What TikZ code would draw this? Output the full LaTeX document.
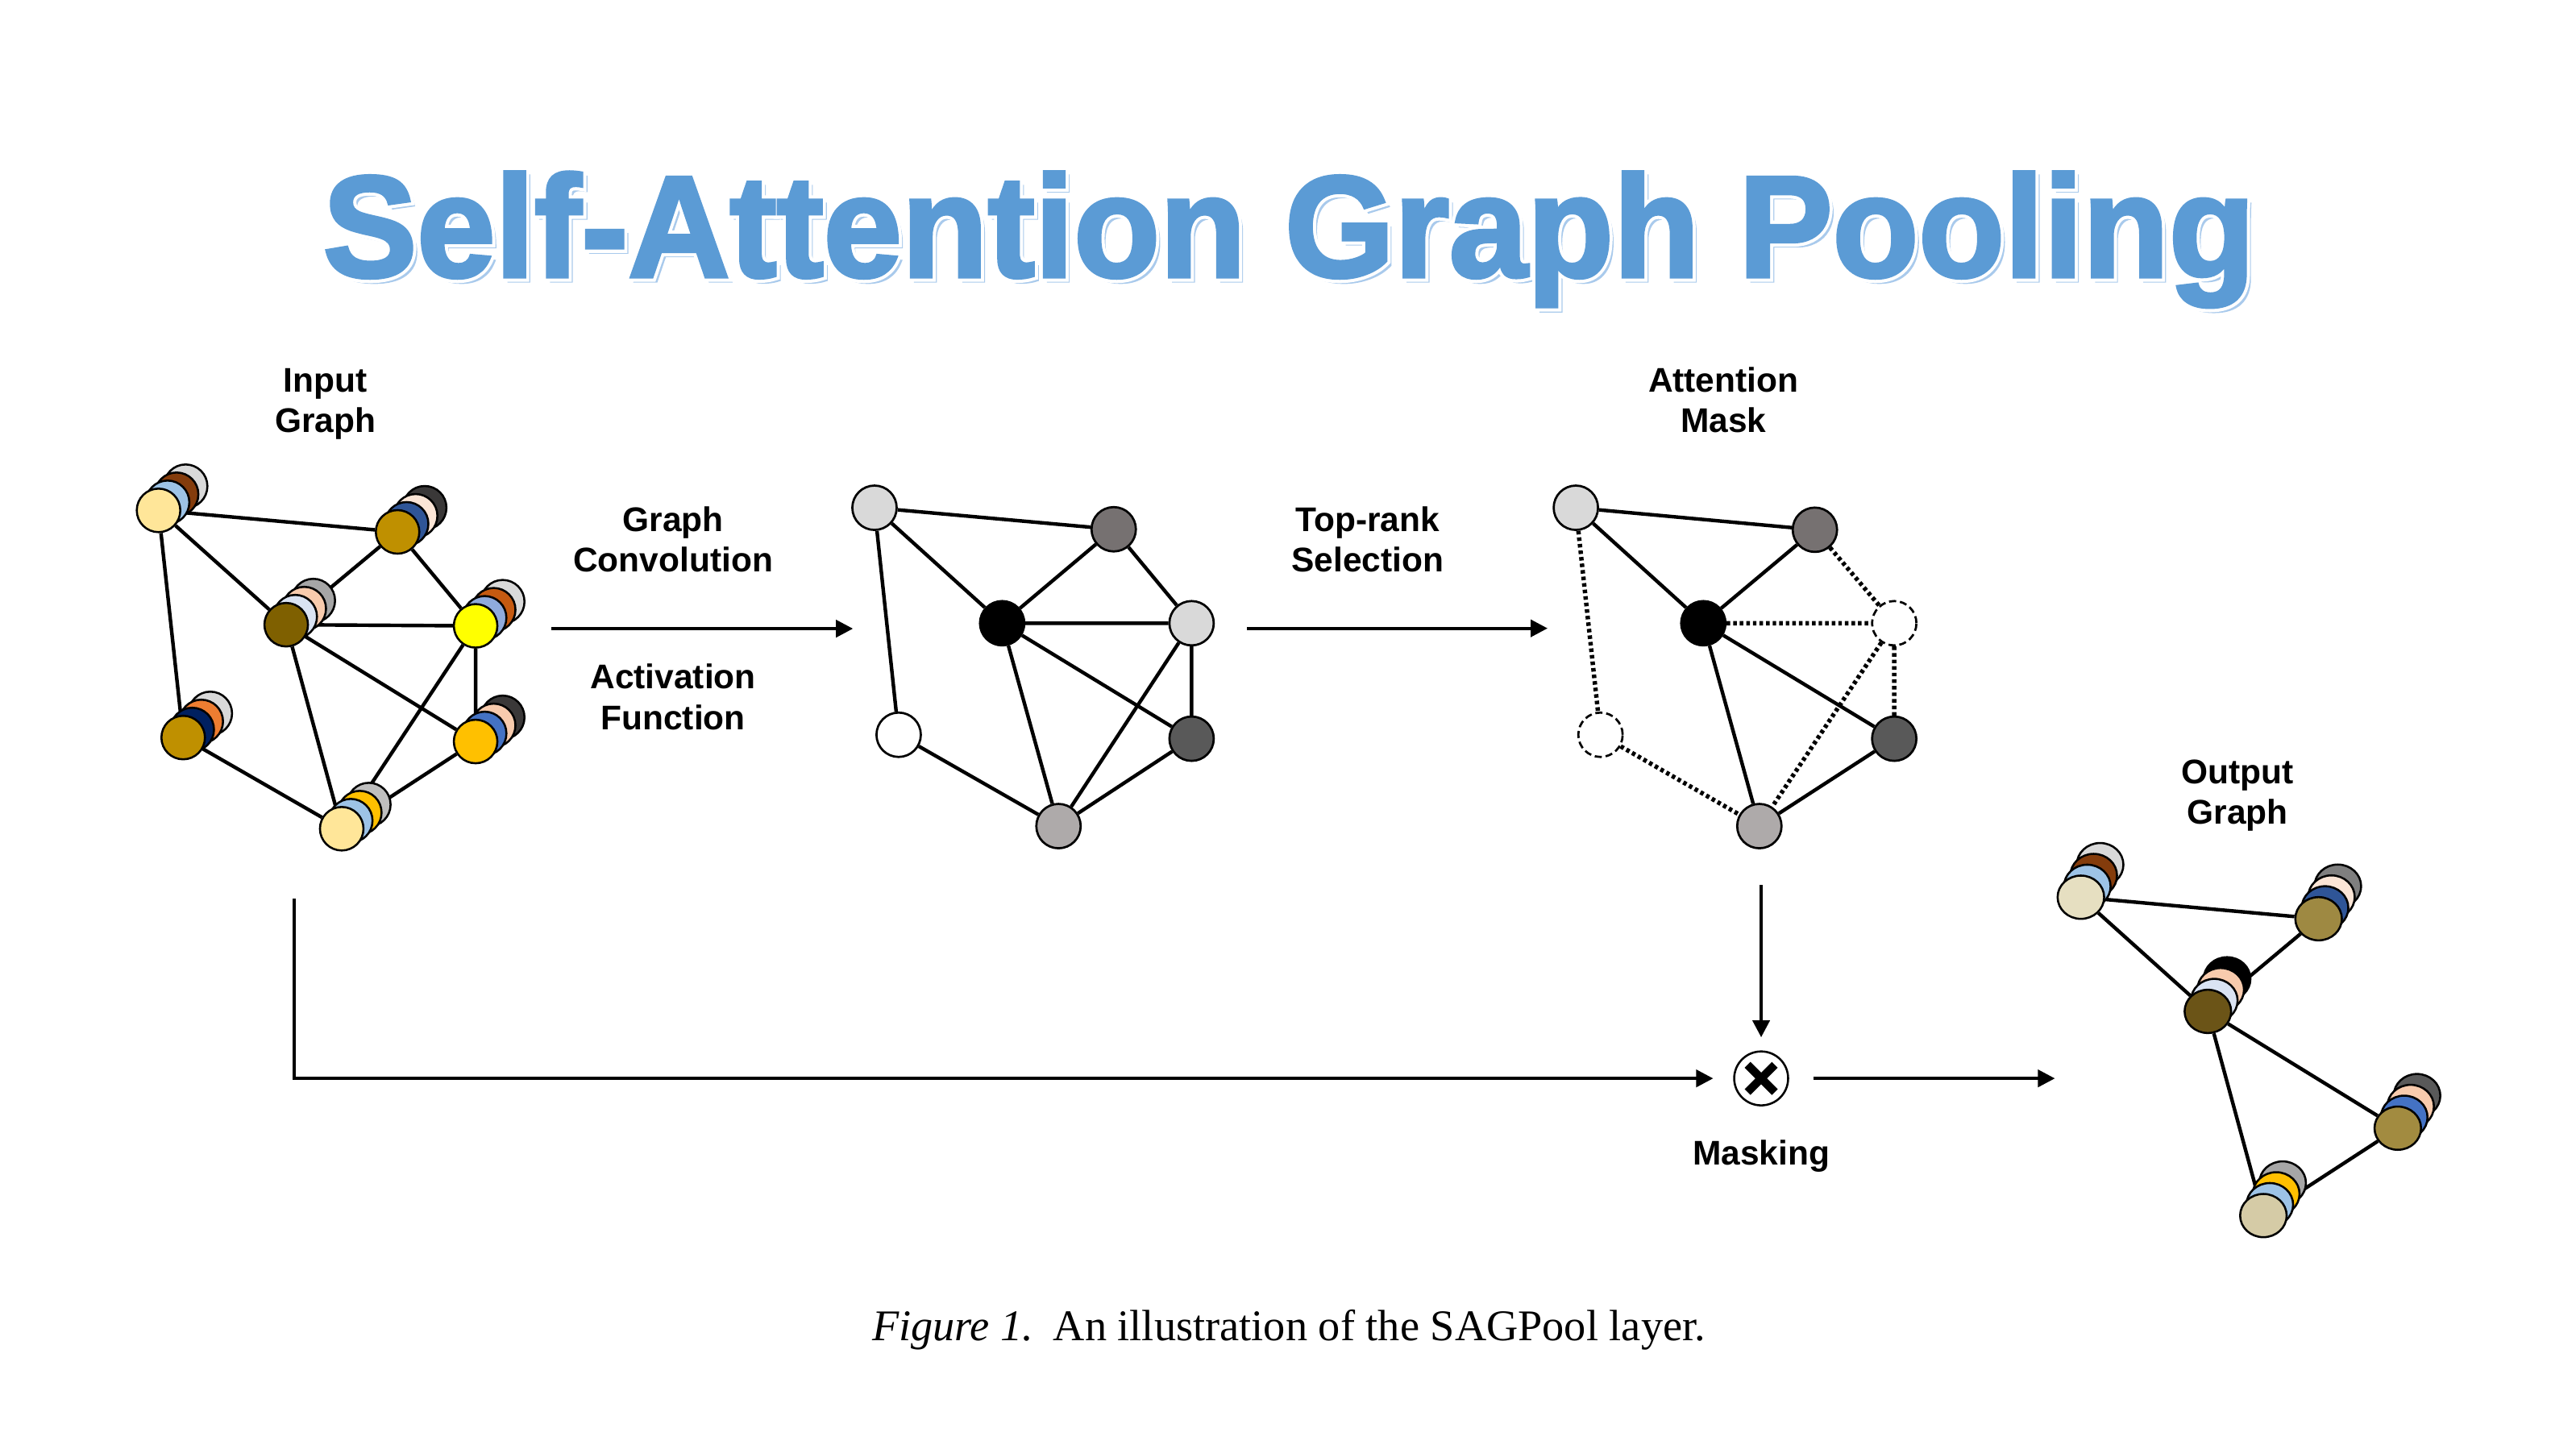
\documentclass[tikz,border=0pt]{standalone}
\usepackage{fontspec}
\setmainfont{Liberation Serif}
\newfontfamily\lblfont{Liberation Sans}
\newfontfamily\titleB{Liberation Sans Bold}[FakeBold=2.5]
\newfontfamily\titleW{Liberation Sans Bold}[FakeBold=7]
\usetikzlibrary{arrows.meta,backgrounds,shapes.geometric}
\definecolor{tblue}{HTML}{5B9BD5}
\definecolor{tshadow}{HTML}{A9CAEC}
\definecolor{cLY}{HTML}{FFE699}
\definecolor{cLB}{HTML}{9DC3E6}
\definecolor{cBr}{HTML}{843C0C}
\definecolor{cLG}{HTML}{D9D9D9}
\definecolor{cOc}{HTML}{BF9000}
\definecolor{cBl}{HTML}{2F5597}
\definecolor{cPe}{HTML}{FBE5D6}
\definecolor{cDk}{HTML}{3A3838}
\definecolor{cOl}{HTML}{7F6000}
\definecolor{cPB}{HTML}{DAE3F3}
\definecolor{cPeB}{HTML}{F8CBAD}
\definecolor{cGr}{HTML}{A6A6A6}
\definecolor{cYe}{HTML}{FFFF00}
\definecolor{cCf}{HTML}{8FAADC}
\definecolor{cOr}{HTML}{C55A11}
\definecolor{cNv}{HTML}{002060}
\definecolor{cOrB}{HTML}{ED7D31}
\definecolor{cAm}{HTML}{FFC000}
\definecolor{cBlB}{HTML}{4472C4}
\definecolor{cGrB}{HTML}{BFBFBF}
\definecolor{cMid}{HTML}{7F7F7F}
\definecolor{cDim}{HTML}{595959}
\definecolor{oBe}{HTML}{E6DFC1}
\definecolor{oOl}{HTML}{9E8942}
\definecolor{oDk}{HTML}{6B5417}
\definecolor{oOlB}{HTML}{A28B40}
\definecolor{oBeB}{HTML}{D5CBA6}
\definecolor{gTR}{HTML}{767171}
\definecolor{gB}{HTML}{AEAAAA}
% stack: name, x, y, front, layer2, layer3, back, front style
\newcommand\stk[8]{%
  \path[lay, fill=#7] ({#2+3*\sdx},{#3+3*\sdy}) ellipse[x radius=\srx, y radius=\sry];
  \path[lay, fill=#6] ({#2+2*\sdx},{#3+2*\sdy}) ellipse[x radius=\srx, y radius=\sry];
  \path[lay, fill=#5] ({#2+\sdx},{#3+\sdy}) ellipse[x radius=\srx, y radius=\sry];
  \node[#8, fill=#4] (#1) at (#2,#3) {};}
\newcommand\ttl[1]{\resizebox{705.4pt}{38.2pt}{#1Self-Attention Graph Pooling}}
\begin{document}
\begin{tikzpicture}[x=0.6pt,y=-0.6pt,
  lay/.style={draw, line width=0.75pt},
  diskI/.style={circle, draw, line width=0.75pt, minimum size=15.9pt, inner sep=0},
  diskO/.style={ellipse, draw, line width=0.75pt, minimum width=17pt, minimum height=15.8pt, inner sep=0},
  gnode/.style={circle, draw, line width=0.8pt, minimum size=16.2pt, inner sep=0},
  ghost/.style={circle, draw, line width=0.8pt, dash pattern=on 2.6pt off 1.4pt, minimum size=16.2pt, inner sep=0},
  edge/.style={line width=1.3pt},
  dotE/.style={line width=1.6pt, dash pattern=on 1.3pt off 1.1pt},
  arr/.style={line width=1.2pt, -{Triangle[length=6.2pt,width=6.2pt]}},
  lbl/.style={font=\lblfont\bfseries\fontsize{12.5}{14.8}\selectfont, align=center, inner sep=0, anchor=base},
  ttlnode/.style={anchor=base west, inner sep=0}]
\useasboundingbox (0,0) rectangle (1568,882);
\begin{scope}[on background layer]
  \fill[white] (0,0) rectangle (1568,882);
\end{scope}

% ---------- title ----------
\node[ttlnode, text=tshadow] (titleS) at (198.8,170.9) {\ttl{\titleB}};
\node[ttlnode, text=white] (titleW) at (196.3,168.4) {\ttl{\titleW}};
\node[ttlnode, text=tblue] (title) at (196.3,168.4) {\ttl{\titleB}};

% ---------- input graph ----------
\def\sdx{5.5}\def\sdy{-4.9}\def\srx{13.25}\def\sry{13.25}
\stk{iTL}{96.5}{310.7}{cLY}{cLB}{cBr}{cLG}{diskI}
\stk{iTR}{242}{323.8}{cOc}{cBl}{cPe}{cDk}{diskI}
\stk{iC}{174.2}{380.3}{cOl}{cPB}{cPeB}{cGr}{diskI}
\stk{iY}{289.5}{381}{cYe}{cCf}{cOr}{cLG}{diskI}
\stk{iBL}{111.5}{449}{cOc}{cNv}{cOrB}{cLG}{diskI}
\stk{iRB}{289.5}{451.4}{cAm}{cBlB}{cPeB}{cDk}{diskI}
\stk{iB}{208}{504.5}{cLY}{cLB}{cAm}{cGrB}{diskI}
\begin{scope}[on background layer]
  \draw[edge] (iTL) -- (iTR) (iTL) -- (iC) (iTL) -- (iBL) (iTR) -- (iC) (iTR) -- (iY)
    (iC) -- (iY) (iC) -- (iRB) (iC) -- (iB) (iY) -- (iRB) (iY) -- (iB)
    (iBL) -- (iB) (iB) -- (iRB);
\end{scope}
\node[lbl] (inLbl) at (198,263.3) {Input\\Graph};

% ---------- arrow 1 ----------
\coordinate (gcS) at (335.6,382.7);
\coordinate (gcE) at (519.2,382.7);
\draw[arr] (gcS) -- (gcE);
\node[lbl] (gcLbl) at (409.7,348.3) {Graph\\Convolution};
\node[lbl] (afLbl) at (409.7,444) {Activation\\Function};

% ---------- scored graph ----------
\node[gnode, fill=cLG] (sTL) at (532.3,309.1) {};
\node[gnode, fill=gTR] (sTR) at (677.9,322.2) {};
\node[gnode, fill=black] (sC) at (610,379.4) {};
\node[gnode, fill=cLG] (sR) at (725.3,379.4) {};
\node[gnode, fill=white] (sBL) at (547,447.3) {};
\node[gnode, fill=cDim] (sRB) at (725.3,449.7) {};
\node[gnode, fill=gB] (sB) at (644.3,502.9) {};
\begin{scope}[on background layer]
  \draw[edge] (sTL) -- (sTR) (sTL) -- (sC) (sTL) -- (sBL) (sTR) -- (sC) (sTR) -- (sR)
    (sC) -- (sR) (sC) -- (sRB) (sC) -- (sB) (sR) -- (sRB) (sR) -- (sB)
    (sBL) -- (sB) (sB) -- (sRB);
\end{scope}

% ---------- arrow 2 ----------
\coordinate (trS) at (759,382.5);
\coordinate (trE) at (942,382.5);
\draw[arr] (trS) -- (trE);
\node[lbl] (trLbl) at (832.5,348.3) {Top-rank\\Selection};

% ---------- attention mask ----------
\node[gnode, fill=cLG] (aTL) at (959.2,309.1) {};
\node[gnode, fill=gTR] (aTR) at (1104.7,322.5) {};
\node[gnode, fill=black] (aC) at (1036.8,379.4) {};
\node[ghost] (aR) at (1153,379.4) {};
\node[ghost] (aBL) at (974.2,447.3) {};
\node[gnode, fill=cDim] (aRB) at (1153,449.7) {};
\node[gnode, fill=gB] (aB) at (1070.9,502.9) {};
\begin{scope}[on background layer]
  \draw[edge] (aTL) -- (aTR) (aTL) -- (aC) (aTR) -- (aC) (aC) -- (aRB) (aC) -- (aB) (aB) -- (aRB);
  \draw[dotE] (aTL) -- (aBL) (aTR) -- (aR) (aC) -- (aR) (aR) -- (aB) (aR) -- (aRB) (aBL) -- (aB);
\end{scope}
\node[lbl] (amLbl) at (1049,263.3) {Attention\\Mask};

% ---------- masking ----------
\node[circle, draw, line width=0.75pt, minimum size=19.7pt, inner sep=0] (mask) at (1072,656.5) {};
\draw[line width=3pt] ([shift={(-8.3,-8.3)}]mask.center) -- ([shift={(8.3,8.3)}]mask.center)
  ([shift={(-8.3,8.3)}]mask.center) -- ([shift={(8.3,-8.3)}]mask.center);
\node[lbl] (mkLbl) at (1072,709) {Masking};
\coordinate (vS) at (1072,538.9);
\draw[arr, shorten >=4.8pt] (vS) -- (mask);
\coordinate (lS) at (179,547);
\draw[arr, shorten >=7.3pt] (lS) |- (mask);
\coordinate (oE) at (1250.8,656.5);
\draw[arr, shorten <=8.8pt] (mask) -- (oE);

% ---------- output graph ----------
\def\sdx{3.9}\def\sdy{-6.6}\def\srx{14.2}\def\sry{13.2}
\stk{oTL}{1266.6}{546.2}{oBe}{cLB}{cBr}{cLG}{diskO}
\stk{oTR}{1411.3}{559.3}{oOl}{cBl}{cPe}{cMid}{diskO}
\stk{oC}{1343.9}{615.7}{oDk}{cPB}{cPeB}{black}{diskO}
\stk{oRB}{1459.5}{686.8}{oOlB}{cBlB}{cPeB}{cDim}{diskO}
\stk{oB}{1377.7}{740}{oBeB}{cLB}{cAm}{cGr}{diskO}
\begin{scope}[on background layer]
  \draw[edge] (oTL) -- (oTR) (oTL) -- (oC) (oTR) -- (oC) (oC) -- (oRB) (oC) -- (oB) (oB) -- (oRB);
\end{scope}
\node[lbl] (ogLbl) at (1362,501.8) {Output\\Graph};

% ---------- caption ----------
\node[font=\fontsize{16}{19}\selectfont, anchor=base, inner sep=0] (cap) at (784.5,816)
  {\textit{Figure 1.}\hspace{0.45em}An illustration of the SAGPool layer.};
\end{tikzpicture}
\end{document}
